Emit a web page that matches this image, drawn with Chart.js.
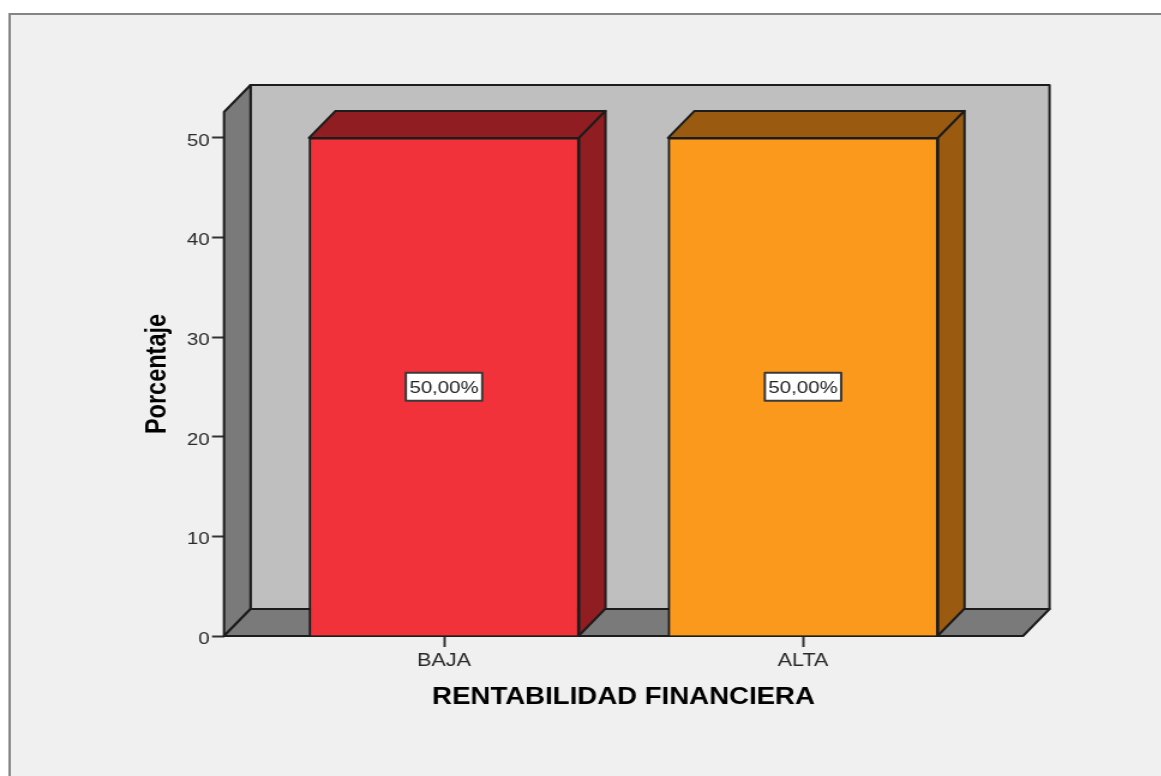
<!DOCTYPE html>
<html>
<head>
<meta charset="utf-8">
<title>Rentabilidad financiera</title>
<script src="https://cdn.jsdelivr.net/npm/chart.js@4"></script>
<style>
    html, body { margin: 0; padding: 0; background: #fff; overflow: hidden; }
    /* the reference is a screenshot stretched sideways, so the canvas is too */
    #myChart { display: block; transform: scaleX(1.2); transform-origin: 0 0; }
</style>
</head>
<body>
<canvas id="myChart" width="968" height="776" style="width:968px;height:776px"></canvas>
<script>
const categories = ['BAJA', 'ALTA'];
const percentages = [50, 50];
const barColors = ['#f2323a', '#fb991d'];
const barDarkColors = ['#8f1d22', '#9a5b10'];
const yTicks = [0, 10, 20, 30, 40, 50];

const stretch = 1.2;
const depthX = 26.5 / stretch;
const depthY = 27;

function poly(c, pts, fill) {
    c.beginPath();
    c.moveTo(pts[0][0], pts[0][1]);
    pts.slice(1).forEach(p => c.lineTo(p[0], p[1]));
    c.closePath();
    c.fillStyle = fill;
    c.fill();
    c.stroke();
}

const box3d = {
    id: 'box3d',
    beforeDraw(chart) {
        const c = chart.ctx;
        c.save();
        c.fillStyle = '#fff';
        c.fillRect(0, 0, chart.width, chart.height);
        c.fillStyle = '#f0f0f0';
        c.strokeStyle = '#858585';
        c.lineWidth = 2;
        c.fillRect(8, 14, chart.width, chart.height);
        c.strokeRect(8, 14, chart.width, chart.height);
        c.restore();
    },
    beforeDatasetsDraw(chart) {
        const c = chart.ctx;
        const { left, right, top, bottom } = chart.chartArea;
        c.save();
        c.strokeStyle = '#1c1c1c';
        c.lineWidth = 2;
        c.lineJoin = 'round';
        // back wall, side wall, floor
        poly(c, [[left + depthX, top - depthY], [right + depthX, top - depthY],
                 [right + depthX, bottom - depthY], [left + depthX, bottom - depthY]], '#bfbfbf');
        poly(c, [[left, top], [left + depthX, top - depthY],
                 [left + depthX, bottom - depthY], [left, bottom]], '#7a7a7a');
        poly(c, [[left, bottom], [left + depthX, bottom - depthY],
                 [right + depthX, bottom - depthY], [right, bottom]], '#7a7a7a');
        c.restore();
    },
    afterDatasetsDraw(chart) {
        const c = chart.ctx;
        const meta = chart.getDatasetMeta(0);
        c.save();
        meta.data.forEach((bar, i) => {
            const l = bar.x - bar.width / 2;
            const r = bar.x + bar.width / 2;
            c.strokeStyle = '#1c1c1c';
            c.lineWidth = 2;
            c.lineJoin = 'round';
            // top and right faces of the bar
            poly(c, [[l, bar.y], [l + depthX, bar.y - depthY],
                     [r + depthX, bar.y - depthY], [r, bar.y]], barDarkColors[i]);
            poly(c, [[r, bar.y], [r + depthX, bar.y - depthY],
                     [r + depthX, bar.base - depthY], [r, bar.base]], barDarkColors[i]);

            // value label in the middle of the bar
            const text = percentages[i].toFixed(2).replace('.', ',') + '%';
            const midY = (bar.y + bar.base) / 2;
            c.font = '17px "Liberation Sans", Arial, sans-serif';
            c.textAlign = 'center';
            c.textBaseline = 'middle';
            const w = c.measureText(text).width + 6;
            c.fillStyle = '#fff';
            c.strokeStyle = '#3a3a3a';
            c.lineWidth = 2;
            c.fillRect(bar.x - w / 2, midY - 14, w, 28);
            c.strokeRect(bar.x - w / 2, midY - 14, w, 28);
            c.fillStyle = '#222';
            c.fillText(text, bar.x, midY + 2);
        });
        c.restore();
    }
};

const ctx = document.getElementById('myChart').getContext('2d');

let myChart = new Chart(ctx, {
    type: 'bar',
    data: {
        datasets: [{
            data: percentages.map((v, i) => ({ x: i, y: v })),
            backgroundColor: barColors,
            borderColor: '#1c1c1c',
            borderWidth: 2,
            barThickness: 270 / stretch
        }]
    },
    options: {
        responsive: false,
        animation: false,
        layout: {
            padding: { left: 117, right: 115.5, top: 112, bottom: 64.7 }
        },
        plugins: {
            legend: { display: false },
            tooltip: { enabled: false }
        },
        scales: {
            x: {
                type: 'linear',
                offset: false,
                min: -0.6128,
                max: 1.6128,
                afterBuildTicks: scale => { scale.ticks = categories.map((c, i) => ({ value: i })); },
                afterFit: scale => { scale.height = 75.3; },
                border: { display: false },
                grid: { offset: false, drawOnChartArea: false, tickLength: 11, tickColor: '#333', tickWidth: 2 },
                ticks: {
                    callback: value => categories[value],
                    color: '#2a2a2a',
                    padding: 3,
                    maxRotation: 0,
                    font: { family: '"Liberation Sans", Arial, sans-serif', size: 18 }
                },
                title: {
                    display: true,
                    text: 'RENTABILIDAD FINANCIERA',
                    color: '#000',
                    padding: 0,
                    font: { family: '"Liberation Sans", Arial, sans-serif', size: 23, weight: 'bold' }
                }
            },
            y: {
                min: 0,
                max: 52.6,
                afterBuildTicks: scale => { scale.ticks = yTicks.map(v => ({ value: v })); },
                afterFit: scale => { scale.width = 69.67; },
                border: { display: false },
                grid: { drawOnChartArea: false, tickLength: 10, tickColor: '#333', tickWidth: 2 },
                ticks: {
                    // blank first line nudges the number a little below its tick, as in the reference
                    callback: value => ['', String(value)],
                    color: '#2a2a2a',
                    padding: 2,
                    font: { family: '"Liberation Sans", Arial, sans-serif', size: 17, lineHeight: 0.36 }
                },
                title: {
                    display: true,
                    text: 'Porcentaje',
                    color: '#000',
                    padding: 0,
                    font: { family: '"Liberation Sans", Arial, sans-serif', size: 23.5, weight: 'bold' }
                }
            }
        }
    },
    plugins: [box3d]
});
</script>
</body>
</html>
